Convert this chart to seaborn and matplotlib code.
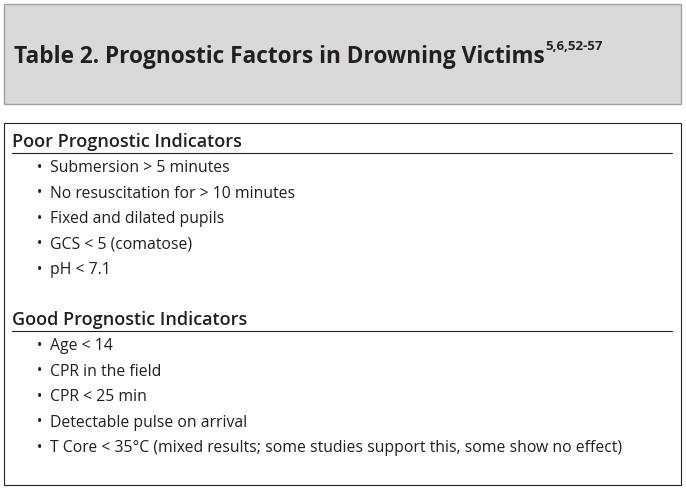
import matplotlib
matplotlib.use("Agg")
import matplotlib.pyplot as plt
import seaborn as sns
from matplotlib.patches import Rectangle

title = "Table 2. Prognostic Factors in Drowning Victims"
title_sup = "5,6,52-57"
sections = ["Poor Prognostic Indicators", "Good Prognostic Indicators"]
poor_items = ["Submersion > 5 minutes", "No resuscitation for > 10 minutes",
              "Fixed and dilated pupils", "GCS < 5 (comatose)", "pH < 7.1"]
good_items = ["Age < 14", "CPR in the field", "CPR < 25 min", "Detectable pulse on arrival",
              "T Core < 35\u00b0C (mixed results; some studies support this, some show no effect)"]

sns.set_style("white")
fig = plt.figure(figsize=(6.86, 4.9), dpi=100)
ax = fig.add_axes([0, 0, 1, 1])
ax.set_xlim(0, 686); ax.set_ylim(490, 0); ax.axis("off")
font = "Open Sans"

ax.add_patch(Rectangle((4, 4), 677, 100, facecolor="#d9d9d9", edgecolor="#a0a0a0", lw=1))
t = ax.text(14, 57, title, fontsize=16.3, fontweight="bold", family=font, va="center", color="#231f20")
fig.canvas.draw()
bb = t.get_window_extent().transformed(ax.transData.inverted())
ax.text(bb.x1 + 1, 47, title_sup, fontsize=9.5, fontweight="bold", family=font, va="center", color="#231f20")

ax.add_patch(Rectangle((4, 123), 677, 362, facecolor="white", edgecolor="#231f20", lw=0.8))
for head_y, items, name in [(142, poor_items, sections[0]), (320, good_items, sections[1])]:
    ax.text(12, head_y, name, fontsize=13, fontweight="semibold", family=font, va="center", color="#231f20")
    ax.plot([12, 672], [head_y + 11, head_y + 11], color="#231f20", lw=0.8)
    for i, it in enumerate(items):
        y = head_y + 26 + i * 25.5
        ax.text(40, y, "\u2022", fontsize=10, family=font, va="center", ha="center", color="#231f20")
        ax.text(50, y, it, fontsize=11.35, family=font, va="center", color="#231f20")

fig.savefig("out.png", dpi=100)
